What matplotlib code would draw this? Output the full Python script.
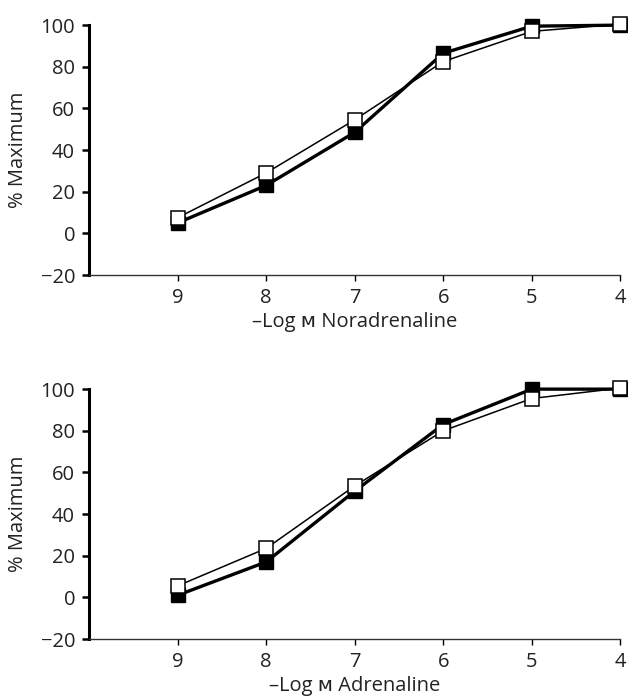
import matplotlib
matplotlib.use("Agg")
import matplotlib.pyplot as plt

plt.rcParams['font.family'] = ['Open Sans', 'DejaVu Sans']

log_conc = [9, 8, 7, 6, 5, 4]
nor_filled = [5, 23, 48.5, 86.5, 99.5, 100]
nor_open = [7.5, 29, 54.5, 82.5, 97, 100.5]
adr_filled = [1, 17, 51, 83, 100, 100]
adr_open = [5.5, 23.5, 53.5, 80, 95.5, 100.5]
y_ticks = [-20, 0, 20, 40, 60, 80, 100]
x_ticks = [9, 8, 7, 6, 5, 4]
xlabels = ['\u2013Log \u1d0d Noradrenaline', '\u2013Log \u1d0d Adrenaline']

fig = plt.figure(figsize=(6.28, 6.98), dpi=100)
ax1 = fig.add_axes([0.1417, 0.606, 0.846, 0.358])
ax2 = fig.add_axes([0.1417, 0.0845, 0.846, 0.358])

for ax, filled, opn, xl in [(ax1, nor_filled, nor_open, xlabels[0]),
                            (ax2, adr_filled, adr_open, xlabels[1])]:
    ax.plot(log_conc, filled, color='black', lw=2.4, marker='s', ms=10.5,
            mfc='black', mec='black', zorder=3, clip_on=False)
    ax.plot(log_conc, opn, color='black', lw=1.1, marker='s', ms=10.5,
            mfc='white', mec='black', mew=1.1, zorder=4, clip_on=False)
    ax.set_xlim(10, 4)
    ax.set_ylim(-20, 100)
    ax.set_xticks(x_ticks)
    ax.set_yticks(y_ticks)
    ax.set_yticklabels(['\u221220' if v < 0 else str(v) for v in y_ticks])
    ax.spines['top'].set_visible(False)
    ax.spines['right'].set_visible(False)
    ax.spines['left'].set_linewidth(2.2)
    ax.spines['bottom'].set_linewidth(1.0)
    ax.spines['bottom'].set_color('#333333')
    ax.tick_params(axis='y', direction='out', length=5, width=1.8, labelsize=14.5, pad=5)
    ax.tick_params(axis='x', direction='out', length=4, width=1.0, labelsize=14.5, pad=5)
    ax.set_ylabel('% Maximum', fontsize=14.5, labelpad=9, color='#222222')
    ax.set_xlabel(xl, fontsize=14.5, labelpad=3, color='#222222')
    for t in ax.get_xticklabels() + ax.get_yticklabels():
        t.set_color('#222222')

fig.savefig('out.png', dpi=100)
